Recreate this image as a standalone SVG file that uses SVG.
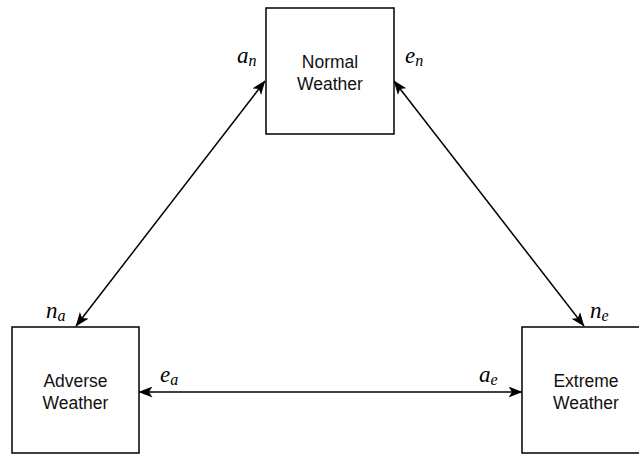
<svg xmlns="http://www.w3.org/2000/svg" width="639" height="455" viewBox="0 0 639 455">
  <style>
    .box { fill: #ffffff; stroke: #000000; stroke-width: 1.5; }
    .lbl { font-family: "Liberation Sans", Arial, sans-serif; font-size: 17.5px; fill: #111; text-anchor: middle; }
    .math { font-family: "Liberation Serif", "Times New Roman", serif; font-style: italic; font-size: 23px; fill: #000; }
    .sub { font-size: 16px; }
    .edge { stroke: #000; stroke-width: 1.5; fill: none; marker-start: url(#head); marker-end: url(#head); }
  </style>
  <defs>
    <marker id="head" viewBox="0 0 14 11" refX="13.5" refY="5.5" markerWidth="14" markerHeight="11" markerUnits="userSpaceOnUse" orient="auto-start-reverse">
      <path d="M0,0 L14,5.5 L0,11 L3.5,5.5 Z" fill="#000"/>
    </marker>
  </defs>

  <!-- connectors -->
  <g id="connectors">
    <line class="edge" x1="76" y1="326" x2="265" y2="81"/>
    <line class="edge" x1="394" y1="81" x2="584" y2="326"/>
    <line class="edge" x1="139" y1="392" x2="522" y2="392"/>
  </g>

  <!-- nodes -->
  <g id="normal">
    <rect class="box" x="266" y="8" width="128" height="126"/>
    <text class="lbl" x="330" y="68">Normal</text>
    <text class="lbl" x="330" y="90">Weather</text>
  </g>
  <g id="adverse">
    <rect class="box" x="12" y="327" width="127" height="126"/>
    <text class="lbl" x="75.5" y="387">Adverse</text>
    <text class="lbl" x="75.5" y="409">Weather</text>
  </g>
  <g id="extreme">
    <rect class="box" x="522" y="327" width="128" height="126"/>
    <text class="lbl" x="586" y="387">Extreme</text>
    <text class="lbl" x="586" y="409">Weather</text>
  </g>

  <!-- port labels -->
  <g id="port-labels">
    <text class="math" x="237" y="63">a<tspan class="sub" dy="3">n</tspan></text>
    <text class="math" x="405" y="63">e<tspan class="sub" dy="3">n</tspan></text>
    <text class="math" x="46" y="318">n<tspan class="sub" dy="3">a</tspan></text>
    <text class="math" x="590" y="318">n<tspan class="sub" dy="3">e</tspan></text>
    <text class="math" x="160" y="382">e<tspan class="sub" dy="3">a</tspan></text>
    <text class="math" x="479" y="382">a<tspan class="sub" dy="3">e</tspan></text>
  </g>
</svg>
